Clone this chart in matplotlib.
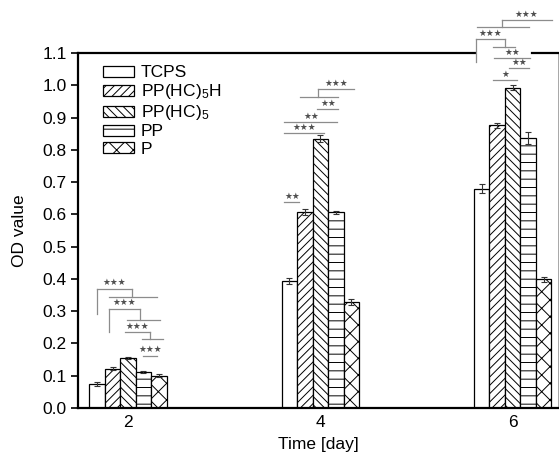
import numpy as np
import matplotlib.pyplot as plt

plt.rcParams['font.family'] = ['Liberation Sans', 'DejaVu Sans']
plt.rcParams['mathtext.default'] = 'regular'
plt.rcParams['hatch.linewidth'] = 0.7
plt.rcParams['hatch.color'] = '#333333'

# OD values per material, days 2 / 4 / 6
days = [2, 4, 6]
materials = ['TCPS', 'PP(HC)$_5$H', 'PP(HC)$_5$', 'PP', 'P']
od_tcps = [0.075, 0.394, 0.680]
od_pphc5h = [0.122, 0.608, 0.876]
od_pphc5 = [0.155, 0.835, 0.992]
od_pp = [0.112, 0.606, 0.837]
od_p = [0.100, 0.329, 0.399]
err_tcps = [0.007, 0.009, 0.014]
err_pphc5h = [0.004, 0.010, 0.008]
err_pphc5 = [0.002, 0.010, 0.008]
err_pp = [0.003, 0.005, 0.018]
err_p = [0.004, 0.010, 0.008]

values = [od_tcps, od_pphc5h, od_pphc5, od_pp, od_p]
errors = [err_tcps, err_pphc5h, err_pphc5, err_pp, err_p]
hatches = ['', '////', '\\\\\\\\', '--', 'xx']

# significance marks: day, bar-index span, height, stars
simple_marks = [
    (2, 2.97, 3.86, 0.161, '★★★'),
    (4, -0.32, 0.65, 0.638, '★★'),
    (4, -0.32, 2.25, 0.851, '★★★'),
    (4, -0.32, 3.10, 0.885, '★★'),
    (4, 1.81, 3.16, 0.926, '★★'),
    (6, 0.76, 2.31, 1.015, '★'),
    (6, 1.75, 3.06, 1.053, '★★'),
    (6, 0.82, 3.12, 1.084, '★★'),
]
# day, stars, labelled line, second line, connector, leg bottom
nested_marks = [
    (2, '★★★', (0.00, 2.25, 0.370), (0.80, 3.90, 0.345), 2.25, 0.290),
    (2, '★★★', (0.80, 2.78, 0.307), (1.94, 4.05, 0.272), 2.78, 0.235),
    (2, '★★★', (1.81, 3.43, 0.235), (2.90, 4.24, 0.214), 3.43, None),
    (4, '★★★', (1.88, 4.19, 0.988), (0.70, 3.16, 0.963), 1.88, None),
    (6, '★★★', (-0.39, 1.48, 1.142), (0.76, 2.12, 1.118), 1.48, 1.071),
    (6, '★★★', (1.29, 4.52, 1.201), (-0.32, 3.03, 1.180), 1.29, None),
]

width = 0.161
x = np.array(days, dtype=float)


def xpos(day, k):
    return day + (k - 2) * width


fig = plt.figure(figsize=(5.59, 4.54), dpi=100)
ax = fig.add_axes([0.1395, 0.1013, 0.8585, 0.782])

for i, (vals, errs, h, name) in enumerate(zip(values, errors, hatches, materials)):
    ax.bar(x + (i - 2) * width, vals, width, color='white', edgecolor='black',
           linewidth=0.9, hatch=h, label=name, zorder=2)
    ax.errorbar(x + (i - 2) * width, vals, yerr=errs, fmt='none', ecolor='#333333',
                elinewidth=0.8, capsize=2.5, capthick=0.8, zorder=3)

line_kw = dict(color='#8c8c8c', lw=0.9, clip_on=False, zorder=4)
star_kw = dict(ha='center', va='bottom', fontsize=6.3, color='#505050',
               family='DejaVu Sans', zorder=5)

for day, k0, k1, y, s in simple_marks:
    x0, x1 = xpos(day, k0), xpos(day, k1)
    ax.plot([x0, x1], [y, y], **line_kw)
    ax.text((x0 + x1) / 2, y + 0.005, s, **star_kw)

for day, s, top, low, km, leg in nested_marks:
    a, b, y1 = top
    c, d, y2 = low
    ax.plot([xpos(day, a), xpos(day, b)], [y1, y1], **line_kw)
    ax.plot([xpos(day, c), xpos(day, d)], [y2, y2], **line_kw)
    ax.plot([xpos(day, km), xpos(day, km)], [y1, y2], **line_kw)
    if leg is not None:
        ax.plot([xpos(day, a), xpos(day, a)], [y1, leg], **line_kw)
    ax.text((xpos(day, a) + xpos(day, b)) / 2, y1 + 0.005, s, **star_kw)

ax.set_xlim(1.48, 6.47)
ax.set_ylim(0, 1.1)
ax.set_xticks(days)
ax.set_xticklabels([str(d) for d in days])
ax.set_yticks(np.arange(0, 1.11, 0.1))
ax.set_yticklabels(['%.1f' % t for t in np.arange(0, 1.11, 0.1)])
ax.tick_params(axis='y', direction='out', length=5, width=1.2, labelsize=12.5, pad=3)
ax.tick_params(axis='x', length=0, labelsize=12.5, pad=5)

for side in ['left', 'bottom']:
    ax.spines[side].set_linewidth(1.6)
ax.spines['right'].set_linewidth(0.6)
ax.spines['right'].set_color('#999999')
ax.spines['top'].set_visible(False)
# top border, broken where the day-6 marks pass through
ax.plot([1.48, 5.605], [1.1, 1.1], color='black', lw=1.6, clip_on=False, zorder=3)
ax.plot([6.197, 6.47], [1.1, 1.1], color='black', lw=1.6, clip_on=False, zorder=3)

ax.set_ylabel('OD value', fontsize=12.5, labelpad=11)
ax.set_xlabel('Time [day]', fontsize=12.5, labelpad=5)

ax.legend(loc='upper left', bbox_to_anchor=(0.03, 0.995), frameon=False,
          fontsize=12.5, handlelength=1.8, handleheight=0.6,
          handletextpad=0.4, labelspacing=0.12, borderaxespad=0.2)

fig.savefig('out.png', dpi=100)
